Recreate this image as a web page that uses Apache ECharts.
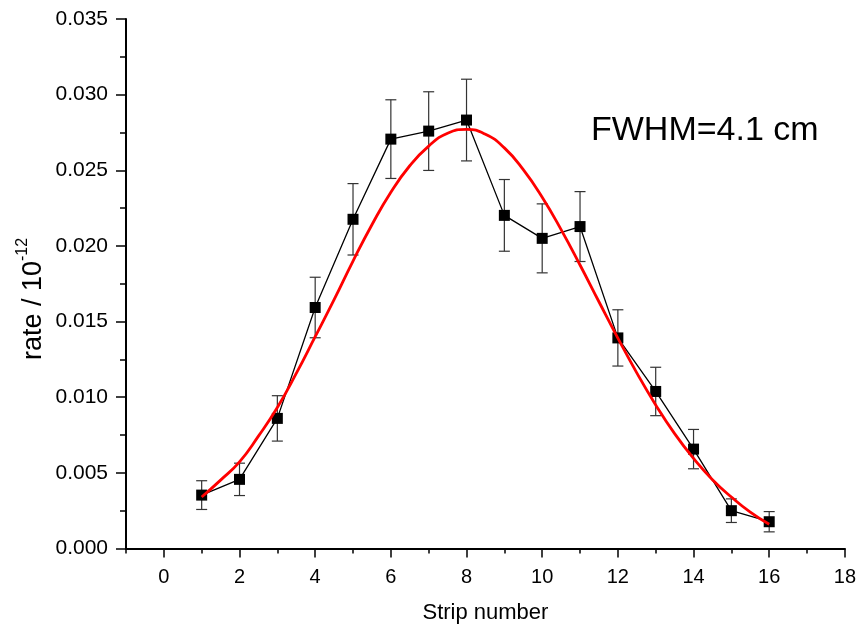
<!DOCTYPE html>
<html><head><meta charset="utf-8">
<script src="https://cdn.jsdelivr.net/npm/echarts@6/dist/echarts.min.js"></script>
<style>html,body{margin:0;padding:0;background:#fff}#c{width:859px;height:629px}</style>
</head><body><div id="c"></div>
<script>
const strips = [1, 2, 3, 4, 5, 6, 7, 8, 9, 10, 11, 12, 13, 14, 15, 16];
const rates = [0.00353, 0.00457, 0.0086, 0.01593, 0.02176, 0.02706, 0.02759, 0.02832, 0.02202, 0.0205, 0.02128, 0.01392, 0.01038, 0.00657, 0.0025, 0.00177];
const rateErrors = [0.00095, 0.00107, 0.0015, 0.002, 0.00236, 0.0026, 0.0026, 0.0027, 0.00237, 0.00228, 0.00231, 0.00186, 0.0016, 0.0013, 0.00078, 0.00067];
const fitX = [1, 1.5, 2, 2.5, 3, 3.5, 4, 4.5, 5, 5.5, 6, 6.5, 7, 7.5, 8, 8.5, 9, 9.5, 10, 10.5, 11, 11.5, 12, 12.5, 13, 13.5, 14, 14.5, 15, 15.5, 16];
const fitY = [0.0034, 0.00452, 0.00573, 0.00743, 0.00932, 0.01157, 0.0140, 0.01645, 0.0190, 0.0214, 0.02355, 0.0253, 0.0266, 0.02745, 0.0277, 0.02738, 0.02648, 0.02504, 0.02322, 0.02108, 0.01874, 0.01631, 0.01391, 0.01161, 0.00949, 0.00759, 0.00595, 0.00455, 0.0034, 0.0024, 0.0016];
const xMajorTicks = [0, 2, 4, 6, 8, 10, 12, 14, 16, 18];
const xMinorTicks = [-1, 1, 3, 5, 7, 9, 11, 13, 15, 17];
const xTitle = 'Strip number';
const yTitle = 'rate / 10';
const yTitleSup = '-12';
const annotation = 'FWHM=4.1 cm';

const FONT = 'Liberation Sans, Arial, sans-serif';
const chart = echarts.init(document.getElementById('c'));
const pts = strips.map((s, i) => [s, rates[i]]);
const errData = strips.map((s, i) => [s, rates[i] - rateErrors[i], rates[i] + rateErrors[i]]);
const fitData = fitX.map((x, i) => [x, fitY[i]]);

chart.setOption({
  animation: false,
  backgroundColor: '#fff',
  grid: { left: 126, right: 13, top: 19, bottom: 80.5, containLabel: false },
  xAxis: [{
    type: 'value', min: -1, max: 18,
    axisLine: { show: true, onZero: false, lineStyle: { color: '#000', width: 2 } },
    axisTick: { show: true, customValues: xMajorTicks, length: 9, lineStyle: { color: '#000', width: 1.5 } },
    axisLabel: { customValues: xMajorTicks, color: '#000', fontSize: 20, fontFamily: FONT, margin: 19 },
    splitLine: { show: false },
    name: xTitle, nameLocation: 'middle', nameGap: 53,
    nameTextStyle: { color: '#000', fontSize: 22, fontFamily: FONT }
  }, {
    type: 'value', min: -1, max: 18, position: 'bottom',
    axisLine: { show: false, onZero: false },
    axisTick: { show: true, customValues: xMinorTicks, length: 5, lineStyle: { color: '#000', width: 1.5 } },
    axisLabel: { show: false },
    splitLine: { show: false }
  }],
  yAxis: {
    type: 'value', min: 0, max: 0.035, interval: 0.005,
    axisLine: { show: true, onZero: false, lineStyle: { color: '#000', width: 2 } },
    axisTick: { show: true, length: 10, lineStyle: { color: '#000', width: 1.5 } },
    minorTick: { show: true, splitNumber: 2, length: 6, lineStyle: { color: '#000', width: 1.5 } },
    axisLabel: { color: '#000', fontSize: 21, fontFamily: FONT, margin: 18, formatter: v => v.toFixed(3) },
    splitLine: { show: false }
  },
  series: [{
    type: 'custom', z: 1, xAxisIndex: 0,
    data: errData,
    renderItem: (params, api) => {
      const x = api.value(0);
      const lo = api.coord([x, api.value(1)]);
      const hi = api.coord([x, api.value(2)]);
      const w = 5.5;
      const st = { stroke: '#333', lineWidth: 1.2 };
      return { type: 'group', children: [
        { type: 'line', shape: { x1: lo[0], y1: lo[1], x2: hi[0], y2: hi[1] }, style: st },
        { type: 'line', shape: { x1: lo[0] - w, y1: lo[1], x2: lo[0] + w, y2: lo[1] }, style: st },
        { type: 'line', shape: { x1: hi[0] - w, y1: hi[1], x2: hi[0] + w, y2: hi[1] }, style: st }
      ]};
    }
  }, {
    type: 'line', z: 2, data: pts,
    symbol: 'rect', symbolSize: 11,
    itemStyle: { color: '#000' },
    lineStyle: { color: '#000', width: 1.3 }
  }, {
    type: 'line', z: 3, data: fitData, smooth: 0.5, symbol: 'none',
    lineStyle: { color: '#ff0000', width: 2.8 }
  }],
  graphic: [{
    type: 'text', left: 591, top: 114,
    style: { text: annotation, fontSize: 34, fontFamily: FONT, fill: '#000' }
  }, {
    type: 'text', x: 31, y: 299, rotation: Math.PI / 2,
    style: {
      text: '{a|' + yTitle + '}{s|' + yTitleSup + '}',
      align: 'center', verticalAlign: 'middle',
      rich: {
        a: { fontSize: 27, fontFamily: FONT, fill: '#000', lineHeight: 32, verticalAlign: 'bottom' },
        s: { fontSize: 16, fontFamily: FONT, fill: '#000', lineHeight: 32, verticalAlign: 'top' }
      }
    }
  }]
});
</script></body></html>
